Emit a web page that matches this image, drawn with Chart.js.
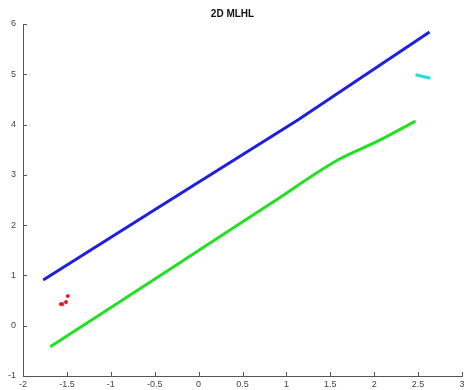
<!DOCTYPE html>
<html>
<head>
  <title>2D MLHL</title>
  <script src="https://cdn.jsdelivr.net/npm/chart.js"></script>
  <style>
    body { margin: 0; background: #fff; }
  </style>
</head>
<body>
  <canvas id="chart" width="467" height="390"></canvas>
  <script>
    // values
    const blueX = [-1.77, -0.45, 1.13, 2.63];
    const blueY = [0.91, 2.36, 4.09, 5.84];
    const greenX = [-1.69, -0.34, 0.83, 1.59, 2.04, 2.47];
    const greenY = [-0.42, 1.11, 2.44, 3.30, 3.67, 4.07];
    const cyanX = [2.47, 2.64];
    const cyanY = [4.99, 4.92];
    const redX = [-1.57, -1.55, -1.51, -1.49];
    const redY = [0.43, 0.43, 0.47, 0.59];
    const xTicks = [-2, -1.5, -1, -0.5, 0, 0.5, 1, 1.5, 2, 2.5, 3];
    const yTicks = [-1, 0, 1, 2, 3, 4, 5, 6];

    const pts = (xs, ys) => xs.map((x, i) => ({ x: x, y: ys[i] }));

    // matlab style ticks pointing into the plot
    const innerTicks = {
      id: 'innerTicks',
      afterDraw(chart) {
        const ctx = chart.ctx;
        const a = chart.chartArea;
        ctx.save();
        ctx.strokeStyle = '#555';
        ctx.lineWidth = 1;
        ctx.beginPath();
        xTicks.forEach(v => {
          const px = Math.round(chart.scales.x.getPixelForValue(v)) + 0.5;
          ctx.moveTo(px, a.bottom);
          ctx.lineTo(px, a.bottom - 4);
        });
        yTicks.forEach(v => {
          const py = Math.round(chart.scales.y.getPixelForValue(v)) + 0.5;
          ctx.moveTo(a.left, py);
          ctx.lineTo(a.left + 4, py);
        });
        ctx.stroke();
        ctx.restore();
      }
    };

    new Chart(document.getElementById("chart"), {
      type: "scatter",
      data: {
        datasets: [
          {
            data: pts(blueX, blueY),
            showLine: true,
            borderColor: "#1f1fe0",
            borderWidth: 3,
            pointRadius: 0,
            tension: 0
          },
          {
            data: pts(greenX, greenY),
            showLine: true,
            borderColor: "#22e022",
            borderWidth: 3,
            pointRadius: 0,
            cubicInterpolationMode: "monotone"
          },
          {
            data: pts(cyanX, cyanY),
            showLine: true,
            borderColor: "#22dde0",
            borderWidth: 3,
            pointRadius: 0
          },
          {
            data: pts(redX, redY),
            showLine: false,
            backgroundColor: "#e02020",
            borderColor: "#e02020",
            pointRadius: 1.5
          }
        ]
      },
      options: {
        responsive: false,
        animation: false,
        layout: { padding: { left: 0, right: 2, top: 0, bottom: 0 } },
        plugins: {
          legend: { display: false },
          tooltip: { enabled: false },
          title: {
            display: true,
            text: "2D MLHL",
            color: "#111",
            font: { family: "Liberation Sans", size: 10, weight: "bold" },
            padding: { top: 8, bottom: 4 }
          }
        },
        scales: {
          x: {
            type: "linear",
            min: -2,
            max: 3,
            afterBuildTicks: s => { s.ticks = xTicks.map(v => ({ value: v })); },
            afterFit: s => { s.height = 14; s.paddingLeft = 0; s.paddingRight = 0; },
            grid: { display: false, drawTicks: false },
            border: { color: "#555", width: 1 },
            ticks: {
              color: "#444",
              padding: 3,
              maxRotation: 0,
              callback: v => String(v),
              font: { family: "Liberation Sans", size: 9 }
            }
          },
          y: {
            type: "linear",
            min: -1,
            max: 6,
            afterBuildTicks: s => { s.ticks = yTicks.map(v => ({ value: v })); },
            afterFit: s => { s.width = 23; },
            grid: { display: false, drawTicks: false },
            border: { color: "#555", width: 1 },
            ticks: {
              color: "#444",
              padding: 7,
              callback: v => String(v),
              font: { family: "Liberation Sans", size: 9 }
            }
          }
        }
      },
      plugins: [innerTicks]
    });
  </script>
</body>
</html>
